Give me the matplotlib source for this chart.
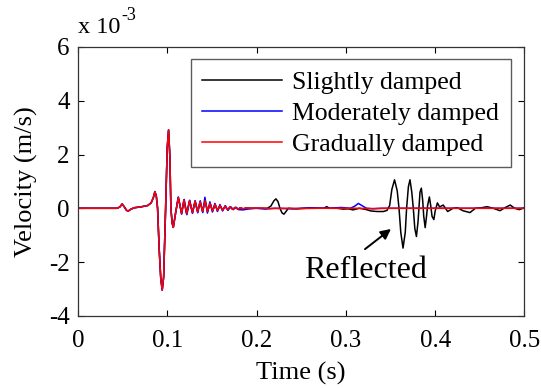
import matplotlib
matplotlib.use("Agg")
import matplotlib.pyplot as plt

plt.rcParams['font.family'] = ['Liberation Serif', 'DejaVu Serif']
plt.rcParams['axes.unicode_minus'] = False

# ---- data (velocity in units of 1e-3 m/s) ----
t_pulse = [0.000, 0.044, 0.047, 0.0495, 0.052, 0.0545, 0.0565, 0.059, 0.063, 0.070,
           0.078, 0.082, 0.0845, 0.0862, 0.0878, 0.0892, 0.0910, 0.0928, 0.0944, 0.0960,
           0.0982, 0.1000, 0.1015, 0.1030, 0.1041, 0.1055, 0.1068, 0.1095]
v_pulse = [0.0, 0.0, 0.05, 0.16, 0.05, -0.08, -0.10, -0.04, 0.02, 0.05,
           0.10, 0.20, 0.40, 0.62, 0.45, 0.0, -1.52, -2.63, -3.04, -2.55,
           0.0, 2.25, 2.91, 1.9, 0.0, -0.55, -0.71, -0.15]

t_gradual_tail = [0.1124, 0.1143, 0.1161, 0.1187, 0.1217, 0.1250, 0.1282, 0.1312, 0.1340,
                  0.1368, 0.1396, 0.1424, 0.1452, 0.1480, 0.1508, 0.1536, 0.1564, 0.1592,
                  0.1620, 0.1648, 0.1676, 0.1704, 0.1732, 0.1760, 0.1790, 0.1820, 0.1850,
                  0.1880, 0.195, 0.205, 0.215, 0.23, 0.25, 0.27, 0.29, 0.31, 0.33, 0.35,
                  0.37, 0.40, 0.43, 0.46, 0.50]
v_gradual_tail = [0.40, 0.10, -0.19, 0.31, -0.20, 0.28, -0.16, 0.26, -0.13,
                  0.24, -0.12, 0.28, -0.12, 0.18, -0.10, 0.14, -0.08, 0.10,
                  -0.07, 0.07, -0.05, 0.05, -0.04, 0.03, -0.03, 0.02, -0.02,
                  0.01, 0.0, 0.01, -0.01, 0.0, -0.01, 0.0, 0.0, 0.0, -0.01, 0.0,
                  0.0, 0.0, 0.0, 0.0, 0.0]

t_moderate_tail = [0.1124, 0.1143, 0.1161, 0.1190, 0.1220, 0.1252, 0.1283, 0.1313, 0.1342,
                   0.1370, 0.1398, 0.1422, 0.1450, 0.1478, 0.1506, 0.1534, 0.1562, 0.1590,
                   0.1620, 0.1650, 0.1680, 0.1710, 0.1740, 0.1770, 0.1800, 0.185, 0.190,
                   0.20, 0.21, 0.22, 0.24, 0.26, 0.28, 0.295, 0.305, 0.310, 0.314, 0.318,
                   0.323, 0.33, 0.34, 0.36, 0.38, 0.42, 0.46, 0.50]
v_moderate_tail = [0.42, 0.10, -0.22, 0.33, -0.24, 0.30, -0.19, 0.28, -0.17,
                   0.28, -0.16, 0.41, -0.18, 0.24, -0.14, 0.18, -0.12, 0.14,
                   -0.10, 0.10, -0.08, 0.06, -0.05, 0.04, -0.05, -0.06, -0.03,
                   0.0, -0.03, 0.0, -0.02, 0.02, 0.0, 0.03, 0.0, 0.08, 0.18, 0.10,
                   0.0, -0.02, 0.0, 0.0, 0.0, 0.0, 0.0, 0.0]

t_slight_tail = [0.1124, 0.1143, 0.1161, 0.1187, 0.1217, 0.1250, 0.1282, 0.1312, 0.1340,
                 0.1368, 0.1396, 0.1424, 0.1452, 0.1480, 0.1508, 0.1536, 0.1564, 0.1592,
                 0.1620, 0.1648, 0.1676, 0.1704, 0.1732, 0.1760, 0.1790, 0.1820, 0.1850,
                 0.1880, 0.200, 0.212, 0.216, 0.2195, 0.2217, 0.2240, 0.2262, 0.2285,
                 0.2307, 0.2330, 0.2355, 0.245, 0.260, 0.275, 0.2785, 0.282, 0.290,
                 0.297, 0.303, 0.308, 0.315, 0.322, 0.328, 0.335, 0.342, 0.346,
                 0.349, 0.3515, 0.3545, 0.3575, 0.3595, 0.3615, 0.3640, 0.3665, 0.3680,
                 0.3700, 0.3718, 0.3738, 0.3755, 0.3772, 0.3790, 0.3808, 0.3818, 0.3830,
                 0.3845, 0.3860, 0.3872, 0.3888, 0.3903, 0.3915, 0.3935, 0.3950, 0.3965,
                 0.3985, 0.4000, 0.4025, 0.405, 0.409, 0.414, 0.420, 0.425, 0.431,
                 0.439, 0.445, 0.452, 0.458, 0.465, 0.4726, 0.478, 0.484, 0.489,
                 0.494, 0.500]
v_slight_tail = [0.40, 0.10, -0.19, 0.31, -0.20, 0.28, -0.16, 0.26, -0.13,
                 0.24, -0.12, 0.28, -0.12, 0.18, -0.10, 0.14, -0.08, 0.10,
                 -0.07, 0.07, -0.05, 0.05, -0.04, 0.03, -0.03, 0.02, -0.02,
                 0.01, 0.0, 0.0, 0.08, 0.28, 0.35, 0.25, 0.0, -0.17,
                 -0.22, -0.12, 0.0, -0.02, 0.01, 0.0, 0.06, 0.0, 0.0,
                 -0.03, -0.02, -0.06, 0.0, -0.04, -0.10, -0.12, -0.12, -0.08,
                 0.10, 0.70, 1.06, 0.65, 0.0, -0.90, -1.48, -0.90, 0.0,
                 0.80, 1.06, 0.60, 0.0, -0.75, -1.05, -0.50, 0.0, 0.60,
                 0.75, 0.30, -0.30, -0.72, -0.30, 0.10, 0.42, 0.10, -0.30,
                 -0.42, -0.10, 0.20, 0.05, 0.12, -0.12, 0.0, 0.02, -0.09,
                 -0.16, 0.0, 0.02, 0.06, 0.0, -0.09, 0.02, 0.12, 0.0,
                 -0.05, 0.02]

series_names = ['Slightly damped', 'Moderately damped', 'Gradually damped']
series_colors = ['#000000', '#0000ff', '#ff0000']

x_ticks = [0, 0.1, 0.2, 0.3, 0.4, 0.5]
x_ticklabels = ['0', '0.1', '0.2', '0.3', '0.4', '0.5']
y_ticks = [-4, -2, 0, 2, 4, 6]
y_ticklabels = ['-4', '-2', '0', '2', '4', '6']

# ---- figure ----
fig = plt.figure(figsize=(5.41, 3.88), dpi=100)
ax = fig.add_axes([0.144, 0.186, 0.8255, 0.693])

series = [
    (t_pulse + t_slight_tail, v_pulse + v_slight_tail),
    (t_pulse + t_moderate_tail, v_pulse + v_moderate_tail),
    (t_pulse + t_gradual_tail, v_pulse + v_gradual_tail),
]
for (tt, vv), name, col in zip(series, series_names, series_colors):
    ax.plot(tt, vv, color=col, lw=1.1, label=name)

ax.set_xlim(0, 0.5)
ax.set_ylim(-4, 6)
ax.set_xticks(x_ticks)
ax.set_xticklabels(x_ticklabels)
ax.set_yticks(y_ticks)
ax.set_yticklabels(y_ticklabels)
ax.tick_params(direction='in', top=True, right=True, length=4, width=0.8,
               labelsize=18)
ax.tick_params(axis='x', pad=10)
ax.tick_params(axis='y', pad=6)
for s in ax.spines.values():
    s.set_linewidth(0.9)
    s.set_color('#333333')

ax.set_xlabel('Time (s)', fontsize=19, labelpad=7)
ax.set_ylabel('Velocity (m/s)', fontsize=19, labelpad=8)

fig.text(78 / 541, 1 - 33 / 388, 'x 10', fontsize=17.5, ha='left', va='baseline')
fig.text(121 / 541, 1 - 20 / 388, '-3', fontsize=13, ha='left', va='baseline')

leg = ax.legend(loc='upper right', bbox_to_anchor=(0.969, 0.954), fontsize=18.5,
                frameon=True, fancybox=False, borderaxespad=0, handlelength=3.1,
                handletextpad=0.4, labelspacing=0.31, borderpad=0.45)
leg.get_frame().set_edgecolor('#333333')
leg.get_frame().set_linewidth(1.0)

ax.annotate('', xy=(0.3505, -0.77), xytext=(0.3214, -1.52),
            arrowprops=dict(arrowstyle='-|>', color='k', lw=1.4,
                            shrinkA=0, shrinkB=0, mutation_scale=15))
ax.text(0.3225, -2.33, 'Reflected', fontsize=23, ha='center', va='center')

fig.savefig('out.png', dpi=100)
